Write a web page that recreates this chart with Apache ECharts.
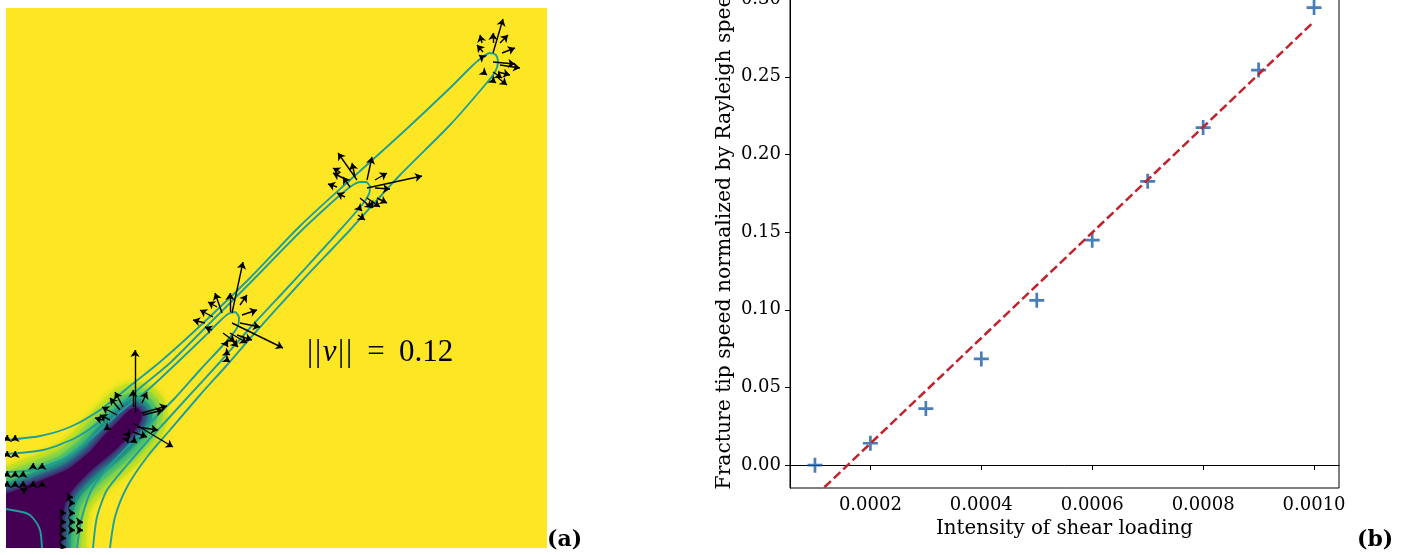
<!DOCTYPE html>
<html>
<head>
<meta charset="utf-8">
<script src="https://cdn.jsdelivr.net/npm/echarts@6/dist/echarts.min.js"></script>
<style>
html,body{margin:0;padding:0;background:#fff;overflow:hidden;width:1412px;height:555px;}
#chart{position:absolute;left:0;top:-20px;width:1412px;height:575px;}
</style>
</head>
<body>
<div id="chart"></div>
<script>
// ---------- Panel (b) data ----------
const loadX = [0.0001, 0.0002, 0.0003, 0.0004, 0.0005, 0.0006, 0.0007, 0.0008, 0.0009, 0.0010];
const speedY = [0.000, 0.0141, 0.0364, 0.0684, 0.1061, 0.1448, 0.1827, 0.2173, 0.2543, 0.2945];
const fitX = [0.0001, 0.0010];
const fitY = [-0.0200, 0.2855];
const yTicks = [0, 0.05, 0.10, 0.15, 0.20, 0.25, 0.30];
const xTicks = [0.0002, 0.0004, 0.0006, 0.0008, 0.0010];

// ---------- Panel (a) data (image pixel coordinates, row index downward) ----------
const damageCore = [[-26,488],[0,486],[24,477],[61,462],[84,444],[99,427],[114,412],[124,402],[131,400],[136,406],[131,419],[110,441],[85,462],[66,482],[59,495],[56,511],[54,540],[54,572],[-26,572]];
const contour1 = [[0,432],[34,428],[64,419],[94,402],[124,378],[154,354],[194,318],[244,270],[294,218],[344,172],[394,127],[444,80],[464,60],[474,51],[484,45],[490,47],[492,54],[489,64],[479,77],[444,117],[394,167],[344,222],[327,240],[294,275],[247,327],[221,357],[194,387],[164,422],[141,449],[121,479],[109,509],[104,540]];
const contour2 = [[0,446],[37,442],[71,429],[104,406],[134,380],[164,355],[194,325],[244,275],[294,224],[324,196],[339,183],[347,177],[354,174],[360,174],[364,179],[363,186],[356,197],[334,222],[316,242],[284,277],[244,320],[214,354],[181,390],[161,412],[141,434],[121,457],[101,482],[91,509],[87,540]];
const contour3 = [[0,464],[27,462],[61,449],[91,425],[114,404],[144,380],[174,352],[199,328],[214,313],[222,306],[229,304],[233,310],[231,320],[219,335],[194,362],[169,390],[147,412],[127,433],[107,454],[87,479],[76,509],[71,540]];
const contour4 = [[0,501],[20,505],[27,510],[34,522],[36,540]];
// velocity arrows: [x0, y0, x1, y1]
const arrows = [
  [487,45,497,11],[487,35,487,25],[476,35,474,27],[494,35,502,27],[477,44,471,37],[496,45,509,40],[487,54,509,56],[494,57,514,60],[477,50,473,47],[492,64,504,67],[487,64,496,70],[477,64,481,67],[491,69,501,77],[486,72,490,75],
  [361,180,416,168],[361,172,366,149],[351,172,332,145],[349,169,346,155],[341,172,327,165],[344,179,337,169],[369,172,381,165],[369,180,384,181],[331,179,322,176],[339,189,331,185],[354,190,366,200],[361,190,374,199],[371,190,381,195],[352,199,356,203],[352,207,359,212],[364,195,367,200],[334,164,327,160],
  [226,305,237,254],[224,304,224,285],[234,297,241,287],[236,307,251,302],[234,315,254,319],[226,315,277,340],[216,305,209,285],[211,299,202,294],[207,309,194,302],[199,315,187,312],[206,322,199,319],[217,325,229,334],[224,325,241,335],[231,327,246,332],[219,334,222,339],[227,334,232,339],[219,344,224,347],[221,352,224,354],
  [129,405,129,342],[127,399,127,382],[136,395,141,384],[136,405,161,398],[137,407,157,402],[127,415,167,439],[131,419,152,422],[127,424,141,429],[117,399,109,384],[114,402,104,390],[111,407,96,399],[104,412,94,407],[97,412,89,410],[101,420,98,422],[121,425,124,429],[127,432,131,435],[121,432,122,435],
  [1,431,1,427],[9,431,9,427],[1,447,1,443],[9,447,9,443],[1,467,1,463],[9,467,9,463],[17,467,17,463],[27,459,27,455],[36,459,36,455],[1,477,1,473],[9,477,9,473],[17,477,17,473],[27,477,27,473],[36,477,36,473],[18,482,18,486],
  [62,489,67,489],[64,495,69,495],[55,505,60,505],[64,505,69,505],[55,514,60,514],[64,514,69,514],[72,514,77,514],[55,522,60,522],[64,522,69,522],[72,522,77,522],[55,530,60,530],[55,539,60,539]
];

const SERIF = "'DejaVu Serif', serif";
const chart = echarts.init(document.getElementById('chart'));

const bandLayers = [
  {w: 52, c: '#d2e21b'},
  {w: 42, c: '#9fda3a'},
  {w: 32, c: '#5ec962'},
  {w: 21, c: '#22a884'},
  {w: 12, c: '#2a788e'},
  {w: 5,  c: '#3b528b'},
  {w: 1,  c: '#440154'}
];

const crossPath = 'path://M-1.8,-10 L1.8,-10 L1.8,-1.8 L10,-1.8 L10,1.8 L1.8,1.8 L1.8,10 L-1.8,10 L-1.8,1.8 L-10,1.8 L-10,-1.8 L-1.8,-1.8 Z';

const contourStyle = {color: '#1f9e9a', width: 1.9};
function contourSeries(pts){
  return {type:'line', xAxisIndex:0, yAxisIndex:0, data: pts, showSymbol:false, symbol:'none',
          smooth:0.25, lineStyle: contourStyle, z:3, silent:true, animation:false};
}

const option = {
  animation: false,
  backgroundColor: '#ffffff',
  grid: [
    {left: 6, top: 28, width: 541, height: 540, show: true, backgroundColor: '#fde725', borderWidth: 0},
    {left: 790, right: 73, top: 4, bottom: 67, show: true, borderColor: '#000', borderWidth: 1, backgroundColor: 'transparent'}
  ],
  xAxis: [
    {gridIndex: 0, type: 'value', min: 0, max: 541, show: false},
    {gridIndex: 1, type: 'value', min: 0.000055, max: 0.001045,
     axisLine: {show: true, lineStyle: {color: '#000', width: 1}},
     axisTick: {show: true, inside: false, length: 5, lineStyle: {color: '#000'}, customValues: xTicks},
     axisLabel: {show: true, margin: 8, color: '#000', fontFamily: SERIF, fontSize: 18, customValues: xTicks,
                 formatter: v => v.toFixed(4)},
     splitLine: {show: false},
     name: 'Intensity of shear loading', nameLocation: 'middle', nameGap: 31,
     nameTextStyle: {fontFamily: SERIF, fontSize: 19.8, color: '#000'}}
  ],
  yAxis: [
    {gridIndex: 0, type: 'value', min: 0, max: 540, inverse: true, show: false},
    {gridIndex: 1, type: 'value', min: -0.0147, max: 0.3097,
     axisLine: {show: true, lineStyle: {color: '#000', width: 1}},
     axisTick: {show: true, inside: false, length: 5, lineStyle: {color: '#000'}, customValues: yTicks},
     axisLabel: {show: true, margin: 9, color: '#000', fontFamily: SERIF, fontSize: 18, customValues: yTicks,
                 formatter: v => v.toFixed(2)},
     splitLine: {show: false},
     name: 'Fracture tip speed normalized by Rayleigh speed', nameLocation: 'middle', nameGap: 55,
     nameTextStyle: {fontFamily: SERIF, fontSize: 20.3, color: '#000'}}
  ],
  series: [
    {
      type: 'custom', coordinateSystem: 'cartesian2d', xAxisIndex: 0, yAxisIndex: 0,
      data: [[0, 0]], z: 1, silent: true,
      renderItem: function(params, api){
        const cs = params.coordSys;
        const pts = damageCore.map(p => api.coord(p));
        const children = bandLayers.map(l => ({
          type: 'polygon',
          shape: {points: pts, smooth: 0.2},
          style: {fill: l.c, stroke: l.c, lineWidth: l.w, lineJoin: 'round', shadowBlur: 8, shadowColor: l.c}
        }));
        return {type: 'group', clipPath: {type: 'rect', shape: {x: cs.x, y: cs.y, width: cs.width, height: cs.height}}, children};
      }
    },
    contourSeries(contour1),
    contourSeries(contour2),
    contourSeries(contour3),
    contourSeries(contour4),
    {
      type: 'lines', coordinateSystem: 'cartesian2d', xAxisIndex: 0, yAxisIndex: 0, z: 4, silent: true,
      symbol: ['none', 'arrow'], symbolSize: 7,
      lineStyle: {color: '#000', width: 1.4, opacity: 1},
      data: arrows.map(a => ({coords: [[a[0], a[1]], [a[2], a[3]]]}))
    },
    {
      type: 'scatter', xAxisIndex: 1, yAxisIndex: 1, z: 3,
      data: loadX.map((x, i) => [x, speedY[i]]),
      symbol: crossPath, symbolSize: 15,
      itemStyle: {color: '#1b5ca6'}
    },
    {
      type: 'line', xAxisIndex: 1, yAxisIndex: 1, z: 4, clip: true,
      data: fitX.map((x, i) => [x, fitY[i]]),
      showSymbol: false, symbol: 'none',
      lineStyle: {color: '#c0232e', width: 2.5, type: [9, 4]}
    }
  ],
  graphic: [
    {type: 'text', left: 307, top: 357, z: 10,
     style: {
       text: '{b||}{b||}{v|v}{b||}{b||}{e|=}{n|0.12}',
       rich: {
         b: {fontFamily: "'Liberation Serif', serif", fontSize: 31, width: 8, align: 'center', fill: '#000'},
         v: {fontFamily: "'Liberation Serif', serif", fontSize: 31, fontStyle: 'italic', width: 15, align: 'center', fill: '#000'},
         e: {fontFamily: "'Liberation Serif', serif", fontSize: 31, width: 46, align: 'center', fill: '#000'},
         n: {fontFamily: "'Liberation Serif', serif", fontSize: 31, fill: '#000'}
       }
     }},
    {type: 'text', left: 547, top: 549, z: 10,
     style: {text: '(a)', fontFamily: SERIF, fontWeight: 'bold', fontSize: 22, fill: '#000'}},
    {type: 'text', left: 1357, top: 549, z: 10,
     style: {text: '(b)', fontFamily: SERIF, fontWeight: 'bold', fontSize: 22, fill: '#000'}}
  ]
};
chart.setOption(option);
</script>
</body>
</html>
